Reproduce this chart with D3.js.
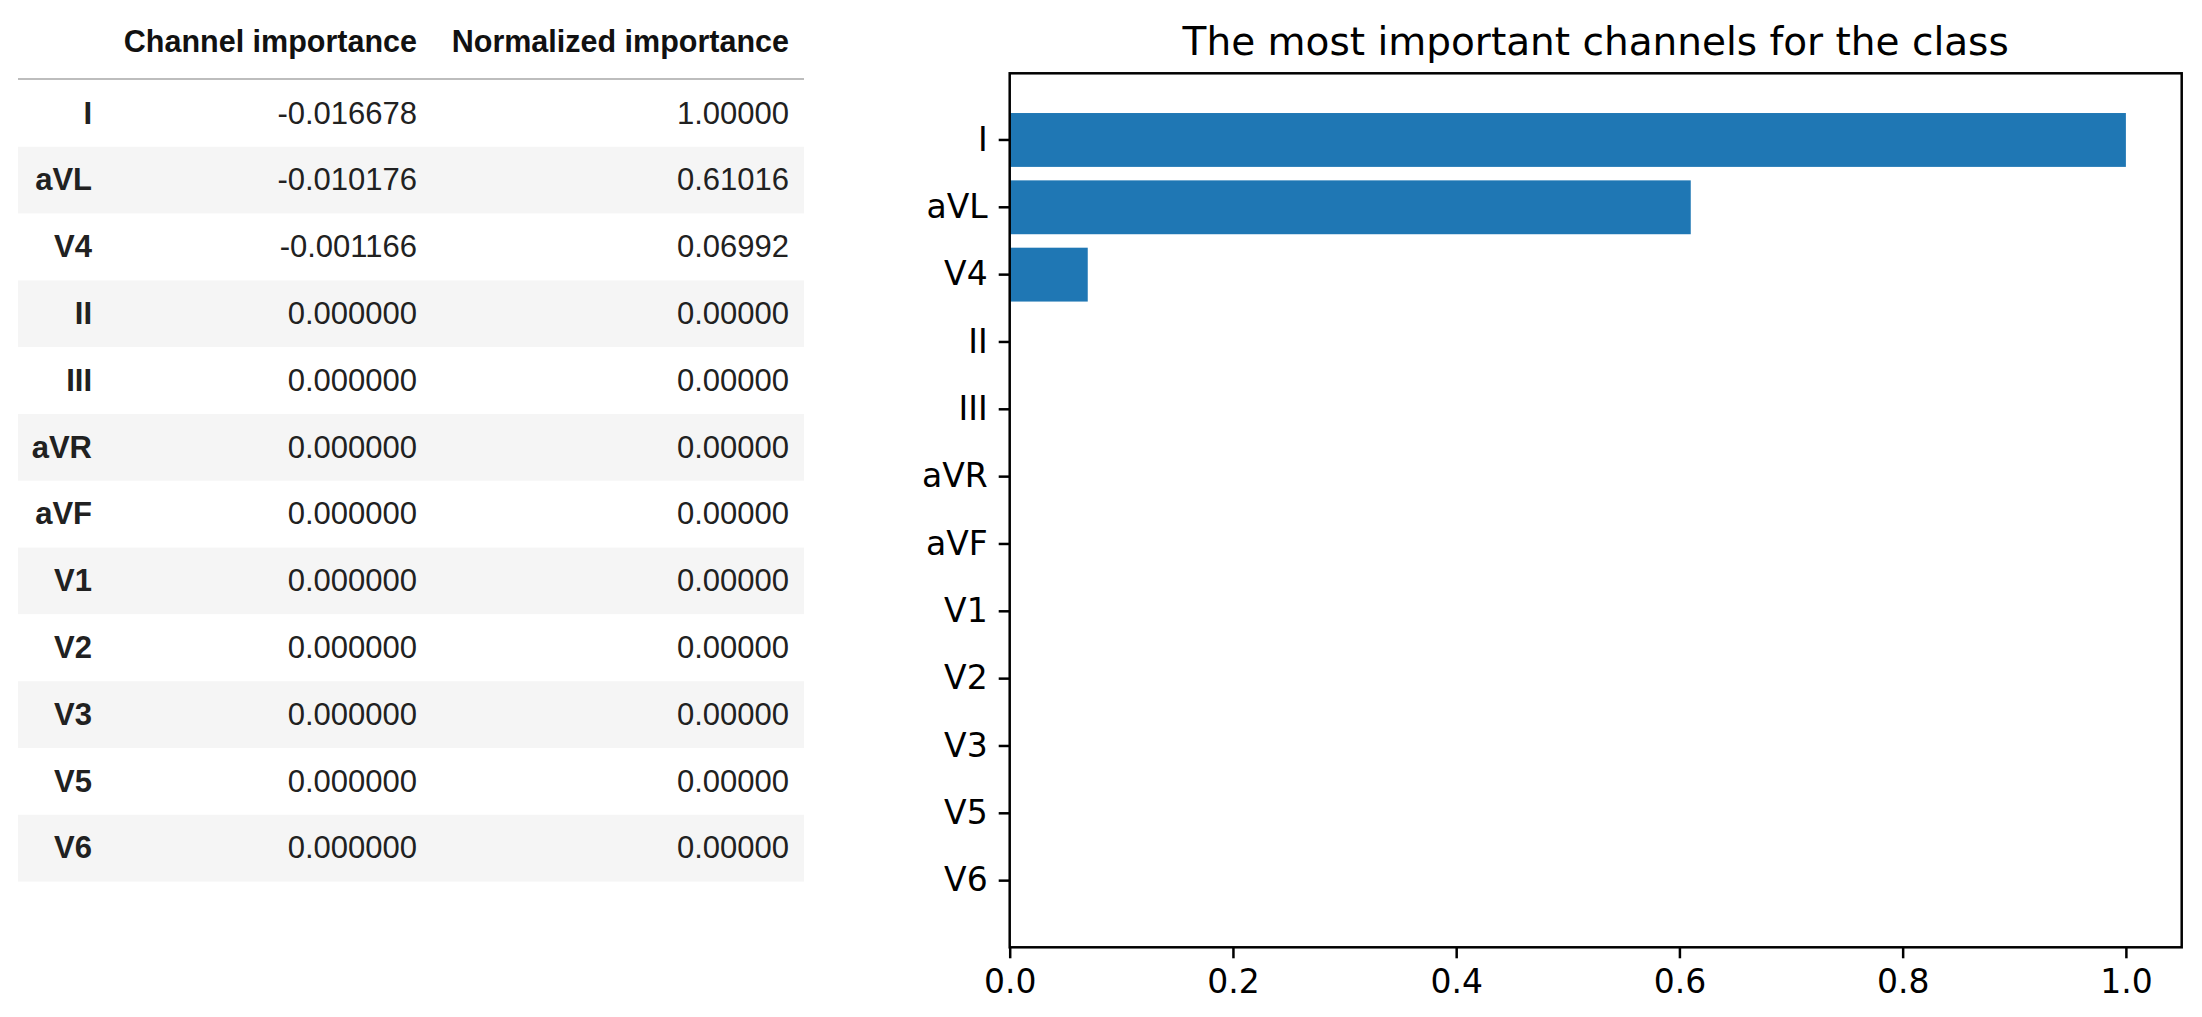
<!DOCTYPE html>
<html>
<head>
<meta charset="utf-8">
<script src="https://d3js.org/d3.v7.min.js"></script>
<style>
  body { margin: 0; background: #fff; }
</style>
</head>
<body>
<div id="cont"></div>
<script>
// channel names, in the order of the table and the bar chart
var channels = ["I", "aVL", "V4", "II", "III", "aVR", "aVF", "V1", "V2", "V3", "V5", "V6"];
var channelImportance = [-0.016678, -0.010176, -0.001166, 0, 0, 0, 0, 0, 0, 0, 0, 0];
var normalizedImportance = [1.0, 0.61016, 0.06992, 0, 0, 0, 0, 0, 0, 0, 0, 0];
var tableColumns = ["Channel importance", "Normalized importance"];
var xTicks = [0, 0.2, 0.4, 0.6, 0.8, 1.0];

var width = 2202,
    height = 1017;

// pandas prints a plain hyphen, not the unicode minus d3 uses
var fmt = p => (v => d3.format("." + p + "f")(v).replace("\u2212", "-"));

var svg = d3.select("#cont")
  .append("svg")
  .attr("width", width)
  .attr("height", height);

/* ---------- table (pandas style) ---------- */
var tableFont = "'Liberation Sans', Arial, Helvetica, sans-serif",
    tableSize = "31px",
    tableLeft = 18,
    tableRight = 804,
    headerLine = 79,
    colRight = [92, 417, 789];

var rowScale = d3.scaleBand()
  .domain(channels)
  .range([headerLine + 1, headerLine + 1 + 66.8 * channels.length]);

var table = svg.append("g").attr("class", "table");

// header
table.selectAll(".head")
  .data(tableColumns)
  .enter().append("text")
  .attr("class", "head")
  .attr("x", (d, i) => colRight[i + 1])
  .attr("y", 52)
  .attr("text-anchor", "end")
  .style("font-family", tableFont)
  .style("font-size", "30.5px")
  .style("font-weight", "bold")
  .style("fill", "#111")
  .text(d => d);

table.append("line")
  .attr("x1", tableLeft)
  .attr("x2", tableRight)
  .attr("y1", headerLine)
  .attr("y2", headerLine)
  .style("stroke", "#bdbdbd")
  .style("stroke-width", 2);

var rows = table.selectAll(".row")
  .data(channels)
  .enter().append("g")
  .attr("class", "row")
  .attr("transform", d => `translate(0,${rowScale(d)})`);

rows.append("rect")
  .attr("x", tableLeft)
  .attr("width", tableRight - tableLeft)
  .attr("height", rowScale.bandwidth())
  .style("fill", (d, i) => i % 2 ? "#f5f5f5" : "#fff");

rows.append("text")
  .attr("x", colRight[0])
  .attr("y", 43.5)
  .attr("text-anchor", "end")
  .style("font-family", tableFont)
  .style("font-size", tableSize)
  .style("font-weight", "bold")
  .style("fill", "#212121")
  .text(d => d);

rows.append("text")
  .attr("x", colRight[1])
  .attr("y", 43.5)
  .attr("text-anchor", "end")
  .style("font-family", tableFont)
  .style("font-size", tableSize)
  .style("fill", "#212121")
  .text((d, i) => fmt(6)(channelImportance[i]));

rows.append("text")
  .attr("x", colRight[2])
  .attr("y", 43.5)
  .attr("text-anchor", "end")
  .style("font-family", tableFont)
  .style("font-size", tableSize)
  .style("fill", "#212121")
  .text((d, i) => fmt(5)(normalizedImportance[i]));

/* ---------- bar chart (matplotlib style) ---------- */
var chartFont = "'DejaVu Sans', sans-serif",
    ax = {left: 1009.7, right: 2181.7, top: 73.3, bottom: 947.3},
    lw = 2.5,
    tickLen = 11;

var xScale = d3.scaleLinear().domain([0, 1.05]).range([ax.left, ax.right]);
var yScale = d3.scaleBand()
  .domain(channels)
  .range([ax.top, ax.bottom])
  .paddingInner(0.2)
  .paddingOuter(0.59);

var chart = svg.append("g").attr("class", "chart");

chart.selectAll(".bar")
  .data(channels)
  .enter().append("rect")
  .attr("class", "bar")
  .attr("x", xScale(0))
  .attr("y", d => yScale(d))
  .attr("width", (d, i) => xScale(normalizedImportance[i]) - xScale(0))
  .attr("height", yScale.bandwidth())
  .style("fill", "#1f77b4");

// axes
var xAxis = d3.axisBottom(xScale)
  .tickValues(xTicks)
  .tickFormat(d3.format(".1f"))
  .tickSize(tickLen)
  .tickPadding(11)
  .tickSizeOuter(0);

var yAxis = d3.axisLeft(yScale)
  .tickSize(tickLen)
  .tickPadding(11)
  .tickSizeOuter(0);

var gx = chart.append("g")
  .attr("transform", `translate(0,${ax.bottom})`)
  .call(xAxis);

var gy = chart.append("g")
  .attr("transform", `translate(${ax.left},0)`)
  .call(yAxis);

[gx, gy].forEach(g => {
  g.select(".domain").remove();
  g.selectAll(".tick line").style("stroke", "#000").style("stroke-width", lw);
  g.selectAll(".tick text")
    .style("font-family", chartFont)
    .style("font-size", "33px")
    .style("fill", "#000");
});

// frame
chart.append("rect")
  .attr("x", ax.left)
  .attr("y", ax.top)
  .attr("width", ax.right - ax.left)
  .attr("height", ax.bottom - ax.top)
  .style("fill", "none")
  .style("stroke", "#000")
  .style("stroke-width", lw);

chart.append("text")
  .attr("x", (ax.left + ax.right) / 2)
  .attr("y", 54.5)
  .attr("text-anchor", "middle")
  .style("font-family", chartFont)
  .style("font-size", "39px")
  .style("fill", "#000")
  .text("The most important channels for the class");
</script>
</body>
</html>
